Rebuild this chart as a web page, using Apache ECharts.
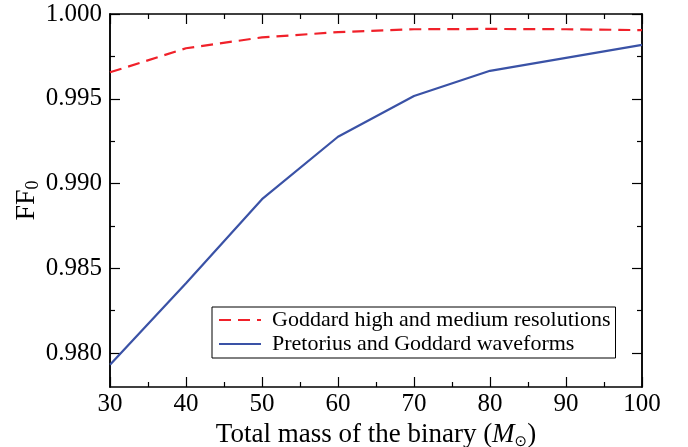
<!DOCTYPE html>
<html><head><meta charset="utf-8">
<script src="https://cdn.jsdelivr.net/npm/echarts@6/dist/echarts.min.js"></script>
<style>html,body{margin:0;padding:0;background:#fff}#c{width:688px;height:447px}</style>
</head><body><div id="c"></div>
<script>
var masses = [30, 40, 50, 60, 70, 80, 90, 100];
var goddardHM = [0.99656, 0.99798, 0.99862, 0.99893, 0.99910, 0.99912, 0.99910, 0.99905];
var massesPG = [30, 40, 50, 60, 70, 80, 100];
var pretoriusVals = [0.97931, 0.98412, 0.98908, 0.99276, 0.99516, 0.99665, 0.99818];
var yMajor = [0.980, 0.985, 0.990, 0.995, 1.000];
var yMinor = [0.9825, 0.9875, 0.9925, 0.9975];
var seriesNames = ['Goddard high and medium resolutions', 'Pretorius and Goddard waveforms'];

var FONT = "'Liberation Serif', 'Times New Roman', serif";
var axisLine = {show: true, lineStyle: {color: '#000', width: 1.5}};
function xa(pos, labels) {
  return {
    type: 'value', min: 30, max: 100, interval: 10, position: pos,
    axisLine: axisLine,
    axisTick: {show: true, inside: true, length: 10, lineStyle: {color: '#000', width: 1.2}},
    minorTick: {show: true, splitNumber: 2, length: 5, lineStyle: {color: '#000', width: 1.2}},
    axisLabel: {show: labels, fontFamily: FONT, fontSize: 25, color: '#000', margin: 5},
    splitLine: {show: false}, minorSplitLine: {show: false}
  };
}
function ya(pos, vals, len, labels) {
  return {
    type: 'value', min: 0.978, max: 1.0, position: pos,
    axisLine: axisLine,
    axisTick: {show: true, inside: true, length: len, customValues: vals, lineStyle: {color: '#000', width: 1.2}},
    axisLabel: {show: labels, customValues: yMajor, formatter: function (v) { return v.toFixed(3); },
      fontFamily: FONT, fontSize: 25, color: '#000', margin: 8},
    splitLine: {show: false}
  };
}
var xBottom = xa('bottom', true);
xBottom.name = 'Total mass of the binary ({i|M}{s|⊙})';
xBottom.nameLocation = 'middle';
xBottom.nameGap = 28;
xBottom.nameTextStyle = {fontFamily: FONT, fontSize: 27, color: '#000',
  rich: {i: {fontFamily: FONT, fontSize: 27, fontStyle: 'italic', color: '#000'},
         s: {fontFamily: 'DejaVu Sans', fontSize: 15, color: '#000', verticalAlign: 'bottom', padding: [14, 0, 0, 0]}}};
var yLeft = ya('left', yMajor, 10, true);
yLeft.name = 'FF{s|0}';
yLeft.nameLocation = 'middle';
yLeft.nameGap = 68;
yLeft.nameMoveOverlap = false;
yLeft.nameRotate = 90;
yLeft.nameTextStyle = {fontFamily: FONT, fontSize: 28, color: '#000',
  rich: {s: {fontFamily: FONT, fontSize: 18, color: '#000', padding: [12, 0, 0, 0]}}};

var chart = echarts.init(document.getElementById('c'), null, {renderer: 'canvas'});
chart.setOption({
  animation: false,
  backgroundColor: '#fff',
  grid: {left: 110, right: 46, top: 14, bottom: 60, containLabel: false, outerBoundsMode: 'none'},
  xAxis: [xBottom, xa('top', false)],
  yAxis: [yLeft, ya('left', yMinor, 5, false), ya('right', yMajor, 10, false), ya('right', yMinor, 5, false)],
  legend: {
    orient: 'vertical', left: 212, top: 307,
    borderColor: '#000', borderWidth: 1, borderRadius: 0,
    padding: [2, 5, 3, 6], itemGap: 2, itemWidth: 42, itemHeight: 22,
    itemStyle: {color: 'rgba(0,0,0,0)', borderWidth: 0, opacity: 0},
    textStyle: {fontFamily: FONT, fontSize: 22, color: '#000', padding: [0, 0, 0, 6]},
    data: seriesNames
  },
  series: [
    {name: seriesNames[0], type: 'line', symbol: 'none', xAxisIndex: 0, yAxisIndex: 0,
     data: masses.map(function (m, i) { return [m, goddardHM[i]]; }),
     lineStyle: {color: '#f0212a', width: 2.2, type: [12, 7]}, itemStyle: {color: '#f0212a'}},
    {name: seriesNames[1], type: 'line', symbol: 'none', xAxisIndex: 0, yAxisIndex: 0,
     data: massesPG.map(function (m, i) { return [m, pretoriusVals[i]]; }),
     lineStyle: {color: '#3a52a6', width: 2.2}, itemStyle: {color: '#3a52a6'}}
  ]
});
</script></body></html>
